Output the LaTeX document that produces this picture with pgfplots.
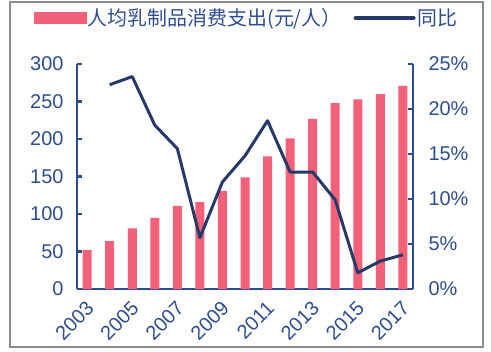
\documentclass[border=0pt]{standalone}
\usepackage{pgfplots}
\pgfplotsset{compat=1.18}
\usepackage{fontspec}
\setmainfont{Liberation Sans}
\newfontfamily\cjk{Noto Sans CJK SC}
\definecolor{barpink}{HTML}{F2607A}
\definecolor{navy}{HTML}{263968}
\definecolor{axblue}{HTML}{2E4D8E}
\pgfplotsset{
  common/.style={
    at={(77bp,62bp)}, anchor=south west,
    scale only axis, width=336bp, height=225bp,
    xmin=-0.45, xmax=14.45,
    axis line style={axblue, line width=2.5bp},
    tick style={axblue, line width=2.5bp},
    tick align=inside, major tick length=5bp,
    ticklabel style={font=\fontsize{20}{24}\selectfont, text=axblue},
    /pgf/number format/assume math mode=true,
  }
}
\begin{document}
\begin{tikzpicture}[x=1bp,y=1bp]
\useasboundingbox (0,0) rectangle (491,351);
\draw[black!45, line width=1.2bp] (10,4) rectangle (483,349);
\begin{axis}[common,
  ymin=0, ymax=300,
  axis y line*=left, axis x line*=bottom,
  ytick={0,50,...,300},
  xtick={0,2,...,14},
  xticklabels={2003,2005,2007,2009,2011,2013,2015,2017},
  x tick style={draw=none},
  xticklabel style={xshift=3bp, yshift=-11bp, rotate=45, anchor=east, inner sep=0pt,
    text height=14bp, text depth=0bp},
  yticklabel style={xshift=-10bp},
  ybar, bar width=9bp,
]
\addplot[fill=barpink, draw=none] coordinates {
(0,52) (1,64) (2,81) (3,95) (4,111) (5,116) (6,131) (7,149)
(8,177) (9,201) (10,227) (11,248) (12,253) (13,260) (14,271)};
\end{axis}
\begin{axis}[common,
  ymin=0, ymax=25,
  axis y line*=right, axis x line=none,
  ytick={0,5,...,25},
  yticklabel={\pgfmathprintnumber{\tick}\%},
  yticklabel style={xshift=12bp},
  legend style={at={(0.5045,1.2044)}, anchor=center, draw=none, fill=none,
    legend columns=2, inner sep=0pt,
    font=\cjk\fontsize{20}{24}\selectfont, text=axblue,
    /tikz/every even column/.append style={column sep=10bp}},
  legend cell align=left,
]
\addlegendimage{legend image code/.code={\fill[barpink] (0bp,-5.5bp) rectangle (52bp,5.5bp);}}
\addlegendentry{人均乳制品消费支出(元/人）}
\addplot[navy, line width=3bp, line join=round,
  legend image code/.code={\draw[navy, line width=4bp, line cap=round] (0bp,0bp) -- (58bp,0bp);}]
  coordinates {
(1,22.7) (2,23.6) (3,18.2) (4,15.6) (5,5.7) (6,11.9) (7,14.8)
(8,18.7) (9,13.0) (10,13.0) (11,9.9) (12,1.8) (13,3.1) (14,3.8)};
\addlegendentry{同比}
\end{axis}
\end{tikzpicture}
\end{document}
